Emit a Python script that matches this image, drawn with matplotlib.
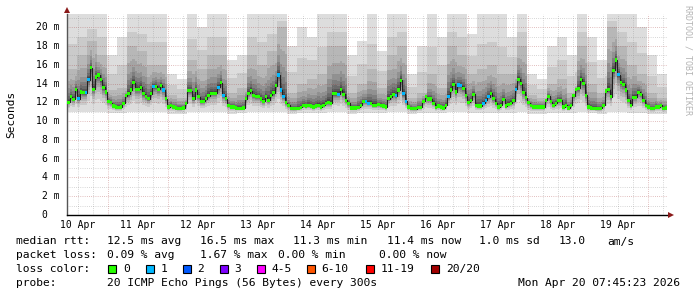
import numpy as np
import matplotlib
matplotlib.use("Agg")
import matplotlib.pyplot as plt
from matplotlib.patches import Polygon, Rectangle
from matplotlib.transforms import blended_transform_factory, ScaledTranslation

# ---------------- data ----------------
# hourly median RTT (ms), 10 Apr 07:45 -> 20 Apr 07:45
median_ms = [
    12.0, 12.6, 12.3, 13.4, 12.4, 13.1, 13.0, 13.0, 14.4, 15.7, 13.4, 14.7, 14.9, 14.4,
    13.6, 13.1, 12.1, 11.95, 11.6, 11.5, 11.45, 11.5, 11.9, 12.7, 12.9, 13.3, 14.1, 13.4,
    13.4, 13.6, 12.9, 12.6, 12.4, 12.9, 13.65, 13.7, 13.4, 13.8, 13.3, 12.4, 11.5, 11.7,
    11.5, 11.4, 11.35, 11.35, 11.4, 11.9, 13.25, 13.25, 12.4, 13.3, 12.6, 12.05, 12.1, 12.4,
    12.7, 12.95, 12.95, 12.95, 13.6, 14.1, 12.7, 12.4, 11.65, 11.5, 11.5, 11.4, 11.35, 11.35,
    11.4, 12.4, 12.95, 13.25, 12.7, 12.6, 12.6, 12.35, 12.1, 12.6, 12.2, 12.75,
    13.0, 13.75, 14.9, 13.3, 12.6, 11.95, 11.7, 11.35, 11.3, 11.35, 11.35, 11.45, 11.7, 11.6,
    11.7, 11.6, 11.5, 11.6, 11.7, 11.5, 11.7, 11.9, 11.95, 11.9, 12.9, 12.9, 12.85, 13.35,
    12.85, 12.2, 11.9, 11.4, 11.4, 11.4, 11.45, 11.7, 12.05, 12.05, 11.9, 11.9,
    11.7, 11.7, 11.75, 11.7, 11.6, 11.5, 12.4, 12.6, 12.85, 12.7, 13.3, 14.35, 12.9, 12.1,
    11.5, 11.35, 11.3, 11.3, 11.45, 11.45, 12.1, 12.6, 12.35, 12.35, 11.9, 11.45, 11.6, 11.5,
    11.4, 11.7, 12.6, 13.3, 13.9, 13.1, 13.85, 13.75, 13.5, 12.7, 12.0, 12.2,
    12.85, 11.7, 11.6, 11.6, 11.9, 12.2, 12.6, 12.95, 12.4, 11.9, 11.5, 11.7, 12.3, 11.6,
    11.8, 11.9, 12.15, 13.4, 14.45, 14.0, 13.05, 12.5, 11.95, 11.7, 11.5, 11.5, 11.5, 11.5,
    11.5, 12.2, 12.65, 12.05, 11.7, 11.9, 12.15, 12.2, 11.5, 11.7, 11.4, 11.7,
    12.7, 13.4, 13.5, 14.45, 14.0, 12.75, 11.5, 11.4, 11.35, 11.3, 11.3, 11.35, 11.7, 13.2,
    13.35, 12.6, 15.4, 16.5, 14.95, 14.1, 13.9, 13.3, 12.2, 11.7, 12.55, 12.55, 13.05, 12.85,
    12.2, 11.7, 11.5, 11.35, 11.35, 11.5, 11.5, 11.7, 11.35, 11.4,
]
# hours with 1 of 20 pings lost
loss_one_hours = [4, 7, 8, 34, 38, 60, 62, 84, 85, 86, 108, 119, 120, 131, 134, 135,
                  152, 156, 157, 166, 167, 168, 179, 220]

# smoke envelopes, 4-hour blocks (ms)
smoke_max = [
    21.4, 21.4, 21.4, 21.4, 17.0, 19.0, 21.4, 21.4, 21.4, 21.4,
    15.0, 14.5, 21.4, 20.0, 21.4, 21.4, 16.5, 17.0, 21.4, 21.4,
    21.4, 21.4, 18.0, 20.0, 19.0, 21.4, 21.4, 21.4, 17.0, 18.5,
    21.4, 17.5, 21.4, 21.4, 15.0, 18.0, 21.4, 19.0, 21.4, 21.4,
    19.3, 21.4, 21.4, 21.4, 19.0, 21.4, 15.0, 14.5, 18.0, 19.0,
    17.0, 21.4, 19.0, 16.5, 21.4, 21.4, 21.4, 20.0, 17.0, 15.0,
]
smoke_p85 = [
    15.5, 17.0, 18.5, 17.0, 13.3, 13.5, 18.0, 17.5, 16.0, 16.0,
    12.8, 12.5, 16.5, 15.5, 17.0, 17.0, 13.0, 13.5, 17.0, 16.0,
    17.5, 20.0, 13.0, 14.0, 14.5, 15.0, 18.0, 18.0, 13.0, 14.0,
    15.5, 13.5, 17.0, 18.0, 12.5, 13.0, 15.0, 13.5, 18.0, 17.0,
    15.0, 15.5, 16.0, 15.0, 15.0, 18.0, 12.8, 12.5, 14.0, 14.5,
    13.0, 18.0, 14.0, 13.0, 20.0, 18.0, 16.0, 15.0, 13.0, 12.5,
]
smoke_min = [
    11.0, 11.0, 11.0, 11.0, 10.9, 10.9, 11.0, 11.0, 11.0, 11.0,
    10.8, 10.8, 11.0, 11.0, 11.0, 11.0, 10.8, 10.9, 11.0, 11.0,
    11.0, 11.0, 10.8, 10.9, 10.9, 10.9, 11.0, 11.0, 10.8, 10.9,
    10.9, 10.9, 11.0, 11.0, 10.8, 10.9, 10.9, 10.9, 11.0, 11.0,
    10.9, 10.9, 10.9, 10.9, 10.9, 11.0, 10.8, 10.8, 10.9, 10.9,
    10.9, 11.0, 10.9, 10.8, 11.0, 11.0, 10.9, 10.9, 10.8, 10.8,
]

day_labels = ["10 Apr", "11 Apr", "12 Apr", "13 Apr", "14 Apr",
              "15 Apr", "16 Apr", "17 Apr", "18 Apr", "19 Apr"]
y_ticks = [0, 2, 4, 6, 8, 10, 12, 14, 16, 18, 20]
y_tick_labels = ["0", "2 m", "4 m", "6 m", "8 m", "10 m", "12 m",
                 "14 m", "16 m", "18 m", "20 m"]

loss_bins = ["0", "1", "2", "3", "4-5", "6-10", "11-19", "20/20"]
loss_colors = ["#26ff00", "#00b8ff", "#0059ff", "#7e00ff", "#ff00ff",
               "#ff5500", "#ff0000", "#a10000"]

# ---------------- figure ----------------
W, H, DPI = 697, 297, 100
plt.rcParams["font.family"] = ["DejaVu Sans Mono", "DejaVu Sans"]
fig = plt.figure(figsize=(W / DPI, H / DPI), dpi=DPI, facecolor="white")

AX_L, AX_R, AX_B, AX_T = 67, 667, 215, 14
ax = fig.add_axes([AX_L / W, 1 - AX_B / H, (AX_R - AX_L) / W, (AX_B - AX_T) / H])
ax.set_facecolor("white")
YMAX = 21.4
n = len(median_ms)
ax.set_xlim(0, n)
ax.set_ylim(0, YMAX)

med = np.array(median_ms)
blk = np.arange(n) // 4
lo = np.array(smoke_min)[blk]
hi = np.maximum(np.array(smoke_p85)[blk], med + 0.3)
top = np.maximum(np.array(smoke_max)[blk], hi)

below = [0.0, 0.35, 0.55, 0.68, 0.78, 0.85, 0.90, 0.94, 0.97, 0.99]
above = [0.02, 0.06, 0.11, 0.18, 0.28, 0.42, 0.65, 1.0]
pings = np.zeros((20, n))
for k, f in enumerate(below):
    pings[k] = lo + (med - lo) * f
for k, g in enumerate(above):
    pings[10 + k] = med + (hi - med) * g
pings[18] = hi + 0.45 * (top - hi)
pings[19] = top

xe = np.arange(n + 1)
def ext(a):
    return np.append(a, a[-1])

for j in range(10):
    g = int(190 / 10 * (9 - j)) + 50
    col = "#%02x%02x%02x" % (g, g, g)
    ax.fill_between(xe, ext(pings[j]), ext(pings[19 - j]), step="post",
                    color=col, linewidth=0, zorder=1)

# grid (on top of smoke)
dash = (0, (0.72, 1.44))
for v in range(1, 22):
    if v % 2:
        ax.axhline(v, color="#8c8c8c", alpha=0.45, lw=0.72, ls=dash, zorder=2)
    else:
        ax.axhline(v, color="#a03030", alpha=0.4, lw=0.72, ls=dash, zorder=2)
first_mid = 16.25
for k in range(-1, 10):
    base = first_mid + 24 * k
    for q in (6, 12, 18):
        xv = base + q
        if 0 < xv < n:
            ax.axvline(xv, color="#8c8c8c", alpha=0.45, lw=0.72, ls=dash, zorder=2)
    if 0 < base < n:
        ax.axvline(base, color="#a03030", alpha=0.4, lw=0.72, ls=dash, zorder=2)

# median line and loss-coloured markers
ax.step(xe, ext(med), where="post", color="#202020", lw=0.8, zorder=3)
loss_set = set(loss_one_hours)
cols = [loss_colors[1] if i in loss_set else loss_colors[0] for i in range(n)]
hgt = 3.2 / 9.4
ax.bar(np.arange(n), hgt, bottom=med - hgt / 2, width=1.0, align="edge",
       color=cols, linewidth=0, zorder=4)

# axes styling
for s in ("top", "right"):
    ax.spines[s].set_visible(False)
ax.spines["left"].set_color("#555555")
ax.spines["left"].set_linewidth(1.0)
ax.spines["bottom"].set_color("#000000")
ax.spines["bottom"].set_linewidth(1.0)
ax.set_xticks([])
ax.set_yticks([])

ytr = blended_transform_factory(ax.transAxes, ax.transData)
for v, lab in zip(y_ticks, y_tick_labels):
    off = -20 if v == 0 else -7
    ax.text(0, v, lab, transform=ytr + ScaledTranslation(off / DPI, 0, fig.dpi_scale_trans),
            ha="right", va="center", fontsize=7, color="black")

xtr = blended_transform_factory(ax.transData, ax.transAxes)
for k, lab in enumerate(day_labels):
    ax.text(first_mid - 12 + 24 * k, 0, lab,
            transform=xtr + ScaledTranslation(0, -10 / DPI, fig.dpi_scale_trans),
            ha="center", va="center", fontsize=7, color="black")

# arrows
def px(x, y):
    return (x / W, 1 - y / H)
fig.add_artist(Polygon([px(64, 13), px(70, 13), px(67, 7)], closed=True,
                       transform=fig.transFigure, color="#8b1a1a", lw=0))
fig.add_artist(Polygon([px(668, 212), px(668, 218), px(674, 215)], closed=True,
                       transform=fig.transFigure, color="#8b1a1a", lw=0))

# y label and watermark
fig.text(11 / W, 1 - 114 / H, "Seconds", rotation=90, ha="center", va="center",
         fontsize=8, color="black")
fig.text(688 / W, 1 - 60 / H, "RRDTOOL / TOBI OETIKER", rotation=270, ha="center",
         va="center", fontsize=6.0, color="#b4b4b4")

# legend text
FS = 8.1
def t(x, y, s, **kw):
    fig.text(x / W, 1 - y / H, s, fontsize=FS, va="center", ha=kw.pop("ha", "left"),
             color="black", **kw)

L1, L2, L3, L4 = 241.5, 255.3, 269.3, 283.3
t(16, L1, "median rtt:")
t(107, L1, "12.5 ms avg")
t(200.5, L1, "16.5 ms max")
t(293, L1, "11.3 ms min")
t(386.5, L1, "11.4 ms now")
t(479, L1, "1.0 ms sd")
t(559, L1, "13.0")
t(607.5, L1, "am/s")

t(16, L2, "packet loss:")
t(107, L2, "0.09 % avg")
t(200.5, L2, "1.67 % max")
t(278, L2, "0.00 % min")
t(379, L2, "0.00 % now")

t(16, L3, "loss color:")
box_x = [108, 145.5, 182.5, 219.5, 256.5, 307, 366, 431]
txt_x = [123, 160.5, 197, 234, 271, 321.5, 380.5, 446]
for bx, tx, lab, c in zip(box_x, txt_x, loss_bins, loss_colors):
    fig.add_artist(Rectangle(px(bx, L3 + 4), 8 / W, 8 / H, transform=fig.transFigure,
                             facecolor=c, edgecolor="#000000", lw=0.8))
    t(tx, L3, lab)

t(16, L4, "probe:")
t(107, L4, "20 ICMP Echo Pings (56 Bytes) every 300s")
t(680, L4, "Mon Apr 20 07:45:23 2026", ha="right")

fig.savefig("out.png", dpi=DPI, facecolor="white")
